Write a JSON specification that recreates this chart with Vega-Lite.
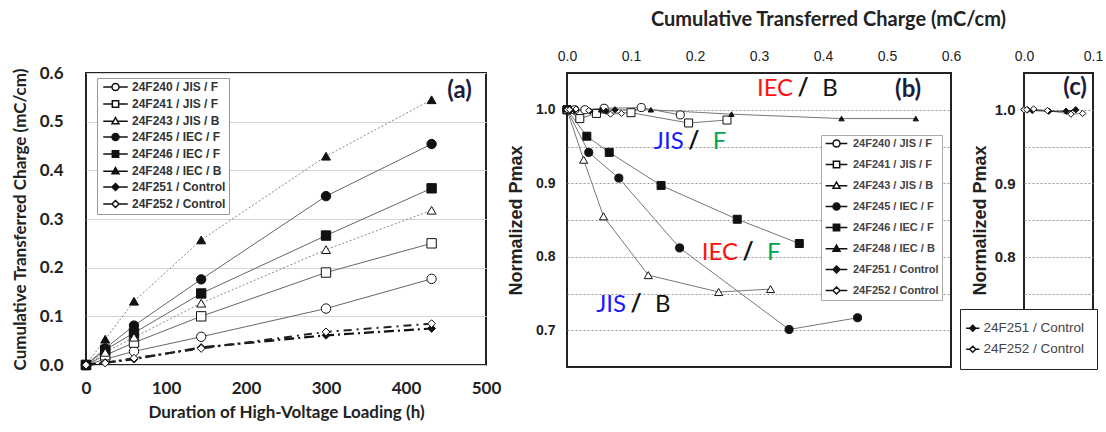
{
  "$schema": "https://vega.github.io/schema/vega-lite/v6.json",
  "background": "white",
  "padding": {"left": 10, "top": 8, "right": 0, "bottom": 4},
  "config": {
    "view": {"stroke": "#222", "strokeWidth": 2},
    "axis": {"domain": false, "ticks": false, "labelFlush": false, "labelOverlap": false, "labelColor": "#222", "titleColor": "#222", "gridColor": "#d4d4d4"}
  },
  "datasets": {
    "main": [
      {"sample": "24F240 / JIS / F", "hours": 0, "charge": 0, "pmax": 1.0},
      {"sample": "24F240 / JIS / F", "hours": 24, "charge": 0.012, "pmax": 1.0},
      {"sample": "24F240 / JIS / F", "hours": 60, "charge": 0.028, "pmax": 1.0},
      {"sample": "24F240 / JIS / F", "hours": 144, "charge": 0.058, "pmax": 1.002},
      {"sample": "24F240 / JIS / F", "hours": 300, "charge": 0.116, "pmax": 1.003},
      {"sample": "24F240 / JIS / F", "hours": 432, "charge": 0.177, "pmax": 0.993},
      {"sample": "24F241 / JIS / F", "hours": 0, "charge": 0, "pmax": 1.0},
      {"sample": "24F241 / JIS / F", "hours": 24, "charge": 0.02, "pmax": 0.988},
      {"sample": "24F241 / JIS / F", "hours": 60, "charge": 0.046, "pmax": 0.995},
      {"sample": "24F241 / JIS / F", "hours": 144, "charge": 0.1, "pmax": 0.996},
      {"sample": "24F241 / JIS / F", "hours": 300, "charge": 0.19, "pmax": 0.982},
      {"sample": "24F241 / JIS / F", "hours": 432, "charge": 0.25, "pmax": 0.986},
      {"sample": "24F243 / JIS / B", "hours": 0, "charge": 0, "pmax": 1.0},
      {"sample": "24F243 / JIS / B", "hours": 24, "charge": 0.026, "pmax": 0.932},
      {"sample": "24F243 / JIS / B", "hours": 60, "charge": 0.057, "pmax": 0.855},
      {"sample": "24F243 / JIS / B", "hours": 144, "charge": 0.127, "pmax": 0.775},
      {"sample": "24F243 / JIS / B", "hours": 300, "charge": 0.237, "pmax": 0.752},
      {"sample": "24F243 / JIS / B", "hours": 432, "charge": 0.318, "pmax": 0.756},
      {"sample": "24F245 / IEC / F", "hours": 0, "charge": 0, "pmax": 1.0},
      {"sample": "24F245 / IEC / F", "hours": 24, "charge": 0.034, "pmax": 0.942},
      {"sample": "24F245 / IEC / F", "hours": 60, "charge": 0.081, "pmax": 0.907},
      {"sample": "24F245 / IEC / F", "hours": 144, "charge": 0.176, "pmax": 0.812},
      {"sample": "24F245 / IEC / F", "hours": 300, "charge": 0.347, "pmax": 0.701},
      {"sample": "24F245 / IEC / F", "hours": 432, "charge": 0.454, "pmax": 0.717},
      {"sample": "24F246 / IEC / F", "hours": 0, "charge": 0, "pmax": 1.0},
      {"sample": "24F246 / IEC / F", "hours": 24, "charge": 0.031, "pmax": 0.964},
      {"sample": "24F246 / IEC / F", "hours": 60, "charge": 0.066, "pmax": 0.942},
      {"sample": "24F246 / IEC / F", "hours": 144, "charge": 0.147, "pmax": 0.897},
      {"sample": "24F246 / IEC / F", "hours": 300, "charge": 0.266, "pmax": 0.851},
      {"sample": "24F246 / IEC / F", "hours": 432, "charge": 0.363, "pmax": 0.818},
      {"sample": "24F248 / IEC / B", "hours": 0, "charge": 0, "pmax": 1.0},
      {"sample": "24F248 / IEC / B", "hours": 24, "charge": 0.053, "pmax": 1.0},
      {"sample": "24F248 / IEC / B", "hours": 60, "charge": 0.131, "pmax": 1.0},
      {"sample": "24F248 / IEC / B", "hours": 144, "charge": 0.257, "pmax": 0.994},
      {"sample": "24F248 / IEC / B", "hours": 300, "charge": 0.429, "pmax": 0.988},
      {"sample": "24F248 / IEC / B", "hours": 432, "charge": 0.545, "pmax": 0.988},
      {"sample": "24F251 / Control", "hours": 0, "charge": 0, "pmax": 1.0},
      {"sample": "24F251 / Control", "hours": 24, "charge": 0.005, "pmax": 1.0},
      {"sample": "24F251 / Control", "hours": 60, "charge": 0.012, "pmax": 0.999},
      {"sample": "24F251 / Control", "hours": 144, "charge": 0.036, "pmax": 0.998},
      {"sample": "24F251 / Control", "hours": 300, "charge": 0.061, "pmax": 0.998},
      {"sample": "24F251 / Control", "hours": 432, "charge": 0.075, "pmax": 1.0},
      {"sample": "24F252 / Control", "hours": 0, "charge": 0, "pmax": 1.0},
      {"sample": "24F252 / Control", "hours": 24, "charge": 0.004, "pmax": 1.0},
      {"sample": "24F252 / Control", "hours": 60, "charge": 0.014, "pmax": 1.001},
      {"sample": "24F252 / Control", "hours": 144, "charge": 0.034, "pmax": 0.999},
      {"sample": "24F252 / Control", "hours": 300, "charge": 0.068, "pmax": 0.994},
      {"sample": "24F252 / Control", "hours": 432, "charge": 0.085, "pmax": 0.995}
    ],
    "notes": [
      {"left": "IEC", "right": "B", "charge": 0.369, "pmax": 1.028},
      {"left": "JIS", "right": "F", "charge": 0.198, "pmax": 0.956},
      {"left": "IEC", "right": "F", "charge": 0.283, "pmax": 0.805},
      {"left": "JIS", "right": "B", "charge": 0.108, "pmax": 0.735}
    ],
    "tags": [
      {"panel": "a", "tag": "(a)", "hours": 467, "charge": 0.563},
      {"panel": "b", "tag": "(b)", "charge": 0.533, "pmax": 1.027},
      {"panel": "c", "tag": "(c)", "charge": 0.074, "pmax": 1.03}
    ]
  },
  "spacing": 81,
  "bounds": "flush",
  "resolve": {"scale": {"x": "independent", "y": "independent", "color": "independent", "shape": "independent", "fill": "independent"}, "legend": {"shape": "independent", "fill": "independent"}},
  "hconcat": [
    {
      "width": 400,
      "height": 292,
      "layer": [
        {
          "data": {"name": "main"},
          "transform": [{"filter": {"field": "sample", "oneOf": ["24F240 / JIS / F", "24F241 / JIS / F", "24F245 / IEC / F", "24F246 / IEC / F"]}}],
          "mark": {"type": "line", "color": "#666666", "strokeWidth": 1},
          "encoding": {
            "x": {"field": "hours", "type": "quantitative", "title": "Duration of High-Voltage Loading (h)", "scale": {"domain": [0, 500], "nice": false},
              "axis": {"values": [0, 100, 200, 300, 400, 500], "grid": false, "labelFont": "Lato", "labelFontWeight": "bold", "labelFontSize": 17, "labelPadding": 15, "titleFont": "Lato", "titleFontWeight": "bold", "titleFontSize": 17, "titlePadding": 8}},
            "y": {"field": "charge", "type": "quantitative", "title": "Cumulative Transferred Charge (mC/cm)", "scale": {"domain": [0, 0.6], "nice": false},
              "axis": {"values": [0, 0.1, 0.2, 0.3, 0.4, 0.5, 0.6], "format": ".1f", "grid": true, "labelFont": "Lato", "labelFontWeight": "bold", "labelFontSize": 17, "labelPadding": 23, "titleFont": "Lato", "titleFontWeight": "bold", "titleFontSize": 17, "titlePadding": 10}},
            "detail": {"field": "sample"}
          }
        },
        {
          "data": {"name": "main"},
          "transform": [{"filter": {"field": "sample", "oneOf": ["24F243 / JIS / B", "24F248 / IEC / B"]}}],
          "mark": {"type": "line", "color": "#8a8a8a", "strokeWidth": 1, "strokeDash": [2, 2]},
          "encoding": {
            "x": {"field": "hours", "type": "quantitative", "title": "Duration of High-Voltage Loading (h)"},
            "y": {"field": "charge", "type": "quantitative", "title": "Cumulative Transferred Charge (mC/cm)"},
            "detail": {"field": "sample"}
          }
        },
        {
          "data": {"name": "main"},
          "transform": [{"filter": {"field": "sample", "equal": "24F251 / Control"}}],
          "mark": {"type": "line", "color": "#111111", "strokeWidth": 2.2, "strokeDash": [10, 4, 2, 4]},
          "encoding": {
            "x": {"field": "hours", "type": "quantitative", "title": "Duration of High-Voltage Loading (h)"},
            "y": {"field": "charge", "type": "quantitative", "title": "Cumulative Transferred Charge (mC/cm)"}
          }
        },
        {
          "data": {"name": "main"},
          "transform": [{"filter": {"field": "sample", "equal": "24F252 / Control"}}],
          "mark": {"type": "line", "color": "#222222", "strokeWidth": 2, "strokeDash": [8, 5, 2, 5]},
          "encoding": {
            "x": {"field": "hours", "type": "quantitative", "title": "Duration of High-Voltage Loading (h)"},
            "y": {"field": "charge", "type": "quantitative", "title": "Cumulative Transferred Charge (mC/cm)"}
          }
        },
        {
          "data": {"name": "main"},
          "transform": [{"filter": {"field": "sample", "oneOf": ["24F240 / JIS / F", "24F245 / IEC / F"]}}],
          "mark": {"type": "point", "shape": "circle", "filled": true, "opacity": 1, "stroke": "#111", "strokeWidth": 1, "size": 88},
          "encoding": {
            "x": {"field": "hours", "type": "quantitative", "title": "Duration of High-Voltage Loading (h)"},
            "y": {"field": "charge", "type": "quantitative", "title": "Cumulative Transferred Charge (mC/cm)"},
            "fill": {"field": "sample", "type": "nominal", "scale": {"domain": ["24F240 / JIS / F", "24F241 / JIS / F", "24F243 / JIS / B", "24F245 / IEC / F", "24F246 / IEC / F", "24F248 / IEC / B", "24F251 / Control", "24F252 / Control"], "range": ["white", "white", "white", "#111111", "#111111", "#111111", "#111111", "white"]}}
          }
        },
        {
          "data": {"name": "main"},
          "transform": [{"filter": {"field": "sample", "oneOf": ["24F241 / JIS / F", "24F246 / IEC / F"]}}],
          "mark": {"type": "point", "shape": "square", "filled": true, "opacity": 1, "stroke": "#111", "strokeWidth": 1, "size": 88},
          "encoding": {
            "x": {"field": "hours", "type": "quantitative", "title": "Duration of High-Voltage Loading (h)"},
            "y": {"field": "charge", "type": "quantitative", "title": "Cumulative Transferred Charge (mC/cm)"},
            "fill": {"field": "sample", "type": "nominal"}
          }
        },
        {
          "data": {"name": "main"},
          "transform": [{"filter": {"field": "sample", "oneOf": ["24F243 / JIS / B", "24F248 / IEC / B"]}}],
          "mark": {"type": "point", "shape": "triangle-up", "filled": true, "opacity": 1, "stroke": "#111", "strokeWidth": 1, "size": 80},
          "encoding": {
            "x": {"field": "hours", "type": "quantitative", "title": "Duration of High-Voltage Loading (h)"},
            "y": {"field": "charge", "type": "quantitative", "title": "Cumulative Transferred Charge (mC/cm)"},
            "fill": {"field": "sample", "type": "nominal"}
          }
        },
        {
          "data": {"name": "main"},
          "transform": [{"filter": {"field": "sample", "oneOf": ["24F251 / Control", "24F252 / Control"]}}],
          "mark": {"type": "point", "shape": "diamond", "filled": true, "opacity": 1, "stroke": "#111", "strokeWidth": 1, "size": 60},
          "encoding": {
            "x": {"field": "hours", "type": "quantitative", "title": "Duration of High-Voltage Loading (h)"},
            "y": {"field": "charge", "type": "quantitative", "title": "Cumulative Transferred Charge (mC/cm)"},
            "fill": {"field": "sample", "type": "nominal"}
          }
        },
        {
          "data": {"name": "main"},
          "transform": [{"filter": "datum.hours < 0"}],
          "mark": {"type": "point", "filled": true, "opacity": 1, "stroke": "#111", "strokeWidth": 1},
          "encoding": {
            "x": {"field": "hours", "type": "quantitative", "title": "Duration of High-Voltage Loading (h)"},
            "y": {"field": "charge", "type": "quantitative", "title": "Cumulative Transferred Charge (mC/cm)"},
            "shape": {"field": "sample", "type": "nominal", "scale": {"domain": ["24F240 / JIS / F", "24F241 / JIS / F", "24F243 / JIS / B", "24F245 / IEC / F", "24F246 / IEC / F", "24F248 / IEC / B", "24F251 / Control", "24F252 / Control"],
                "range": ["M-3.5,0H-1M1,0H3.5M-1,0A1,1,0,1,0,1,0A1,1,0,1,0,-1,0", "M-3.5,0H-0.9M0.9,0H3.5M-0.9,-0.9H0.9V0.9H-0.9Z", "M-3.5,0.1H-0.6M0.6,0.1H3.5M0,-1L1,0.8H-1Z", "M-3.5,0H-1M1,0H3.5M-1,0A1,1,0,1,0,1,0A1,1,0,1,0,-1,0", "M-3.5,0H-0.9M0.9,0H3.5M-0.9,-0.9H0.9V0.9H-0.9Z", "M-3.5,0.1H-0.6M0.6,0.1H3.5M0,-1L1,0.8H-1Z", "M-3.5,0H-1M1,0H3.5M0,-1L1,0L0,1L-1,0Z", "M-3.5,0H-1M1,0H3.5M0,-1L1,0L0,1L-1,0Z"]},
              "legend": {"title": null, "orient": "none", "legendX": 11, "legendY": 5, "fillColor": "white", "strokeColor": "#999", "padding": 3, "labelFont": "Liberation Sans", "labelFontWeight": "bold", "labelFontSize": 12, "labelColor": "#333", "symbolSize": 49, "symbolOpacity": 1, "symbolOffset": 9.5, "labelOffset": 10.5, "rowPadding": 3}},
            "fill": {"field": "sample", "type": "nominal"}
          }
        },
        {
          "data": {"name": "tags"},
          "transform": [{"filter": "datum.panel === 'a'"}],
          "mark": {"type": "text", "font": "Lato", "fontWeight": "bold", "fontSize": 24, "color": "#1c1c3c", "align": "center", "baseline": "middle"},
          "encoding": {
            "x": {"field": "hours", "type": "quantitative", "title": "Duration of High-Voltage Loading (h)"},
            "y": {"field": "charge", "type": "quantitative", "title": "Cumulative Transferred Charge (mC/cm)"},
            "text": {"field": "tag"}
          }
        }
      ]
    },
    {
      "spacing": 73,
      "bounds": "flush",
      "resolve": {"scale": {"x": "independent", "y": "independent", "color": "independent", "shape": "independent", "fill": "independent"}, "legend": {"shape": "independent", "fill": "independent"}},
      "hconcat": [
        {
          "width": 384,
          "height": 294,
          "layer": [
            {
              "data": {"name": "main"},
              "mark": {"type": "line", "color": "#777777", "strokeWidth": 1},
              "encoding": {
                "x": {"field": "charge", "type": "quantitative", "title": "Cumulative Transferred Charge (mC/cm)", "scale": {"domain": [0, 0.6], "nice": false},
                  "axis": {"orient": "top", "values": [0, 0.1, 0.2, 0.3, 0.4, 0.5, 0.6], "format": ".1f", "grid": false, "labelFont": "Liberation Sans", "labelFontSize": 14, "labelPadding": 10, "titleFont": "Lato", "titleFontWeight": "bold", "titleFontSize": 20, "titleX": 261, "titleY": -48, "titleAlign": "center", "titleBaseline": "alphabetic"}},
                "y": {"field": "pmax", "type": "quantitative", "title": "Normalized Pmax", "scale": {"domain": [0.65, 1.05], "nice": false},
                  "axis": {"values": [0.7, 0.75, 0.8, 0.85, 0.9, 0.95, 1.0], "labelExpr": "abs(round(datum.value*100)) % 10 == 0 ? format(datum.value, '.1f') : ''", "grid": true, "gridDash": [2, 2], "gridColor": "#999999", "labelFont": "Liberation Sans", "labelFontWeight": "bold", "labelFontSize": 14, "labelPadding": 12, "titleFont": "Liberation Sans", "titleFontWeight": "bold", "titleFontSize": 18, "titlePadding": 10}},
                "detail": {"field": "sample"}
              }
            },
            {
              "data": {"name": "main"},
              "transform": [{"filter": {"field": "sample", "oneOf": ["24F240 / JIS / F", "24F245 / IEC / F"]}}],
              "mark": {"type": "point", "shape": "circle", "filled": true, "opacity": 1, "stroke": "#111", "strokeWidth": 1, "size": 66},
              "encoding": {
                "x": {"field": "charge", "type": "quantitative", "title": "Cumulative Transferred Charge (mC/cm)"},
                "y": {"field": "pmax", "type": "quantitative", "title": "Normalized Pmax"},
                "fill": {"field": "sample", "type": "nominal", "scale": {"domain": ["24F240 / JIS / F", "24F241 / JIS / F", "24F243 / JIS / B", "24F245 / IEC / F", "24F246 / IEC / F", "24F248 / IEC / B", "24F251 / Control", "24F252 / Control"], "range": ["white", "white", "white", "#111111", "#111111", "#111111", "#111111", "white"]}}
              }
            },
            {
              "data": {"name": "main"},
              "transform": [{"filter": {"field": "sample", "oneOf": ["24F241 / JIS / F", "24F246 / IEC / F"]}}],
              "mark": {"type": "point", "shape": "square", "filled": true, "opacity": 1, "stroke": "#111", "strokeWidth": 1, "size": 64},
              "encoding": {
                "x": {"field": "charge", "type": "quantitative", "title": "Cumulative Transferred Charge (mC/cm)"},
                "y": {"field": "pmax", "type": "quantitative", "title": "Normalized Pmax"},
                "fill": {"field": "sample", "type": "nominal"}
              }
            },
            {
              "data": {"name": "main"},
              "transform": [{"filter": {"field": "sample", "equal": "24F243 / JIS / B"}}],
              "mark": {"type": "point", "shape": "triangle-up", "filled": true, "opacity": 1, "stroke": "#111", "strokeWidth": 1, "size": 66},
              "encoding": {
                "x": {"field": "charge", "type": "quantitative", "title": "Cumulative Transferred Charge (mC/cm)"},
                "y": {"field": "pmax", "type": "quantitative", "title": "Normalized Pmax"},
                "fill": {"field": "sample", "type": "nominal"}
              }
            },
            {
              "data": {"name": "main"},
              "transform": [{"filter": {"field": "sample", "equal": "24F248 / IEC / B"}}],
              "mark": {"type": "point", "shape": "triangle-up", "filled": true, "opacity": 1, "stroke": "#111", "strokeWidth": 1, "size": 28},
              "encoding": {
                "x": {"field": "charge", "type": "quantitative", "title": "Cumulative Transferred Charge (mC/cm)"},
                "y": {"field": "pmax", "type": "quantitative", "title": "Normalized Pmax"},
                "fill": {"field": "sample", "type": "nominal"}
              }
            },
            {
              "data": {"name": "main"},
              "transform": [{"filter": {"field": "sample", "oneOf": ["24F251 / Control", "24F252 / Control"]}}],
              "mark": {"type": "point", "shape": "diamond", "filled": true, "opacity": 1, "stroke": "#111", "strokeWidth": 1, "size": 38},
              "encoding": {
                "x": {"field": "charge", "type": "quantitative", "title": "Cumulative Transferred Charge (mC/cm)"},
                "y": {"field": "pmax", "type": "quantitative", "title": "Normalized Pmax"},
                "fill": {"field": "sample", "type": "nominal"}
              }
            },
            {
              "data": {"name": "main"},
              "transform": [{"filter": "datum.hours < 0"}],
              "mark": {"type": "point", "filled": true, "opacity": 1, "stroke": "#222", "strokeWidth": 1},
              "encoding": {
                "x": {"field": "charge", "type": "quantitative", "title": "Cumulative Transferred Charge (mC/cm)"},
                "y": {"field": "pmax", "type": "quantitative", "title": "Normalized Pmax"},
                "shape": {"field": "sample", "type": "nominal", "scale": {"domain": ["24F240 / JIS / F", "24F241 / JIS / F", "24F243 / JIS / B", "24F245 / IEC / F", "24F246 / IEC / F", "24F248 / IEC / B", "24F251 / Control", "24F252 / Control"],
                    "range": ["M-3.1,0H-1M1,0H3.1M-1,0A1,1,0,1,0,1,0A1,1,0,1,0,-1,0", "M-3.1,0H-0.9M0.9,0H3.1M-0.9,-0.9H0.9V0.9H-0.9Z", "M-3.1,0.1H-0.6M0.6,0.1H3.1M0,-1L1,0.8H-1Z", "M-3.1,0H-1M1,0H3.1M-1,0A1,1,0,1,0,1,0A1,1,0,1,0,-1,0", "M-3.1,0H-0.9M0.9,0H3.1M-0.9,-0.9H0.9V0.9H-0.9Z", "M-3.1,0.1H-0.6M0.6,0.1H3.1M0,-1L1,0.8H-1Z", "M-3.1,0H-1M1,0H3.1M0,-1L1,0L0,1L-1,0Z", "M-3.1,0H-1M1,0H3.1M0,-1L1,0L0,1L-1,0Z"]},
                  "legend": {"title": null, "orient": "none", "legendX": 254, "legendY": 62, "fillColor": "white", "strokeColor": "#aaa", "padding": 3, "labelFont": "Liberation Sans", "labelFontWeight": "bold", "labelFontSize": 11, "labelColor": "#444", "symbolSize": 49, "symbolOpacity": 1, "symbolOffset": 7, "labelOffset": 11, "rowPadding": 8}},
                "fill": {"field": "sample", "type": "nominal"}
              }
            },
            {
              "data": {"name": "notes"},
              "mark": {"type": "text", "font": "Lato", "fontSize": 24, "align": "right", "baseline": "middle", "dx": -10},
              "encoding": {
                "x": {"field": "charge", "type": "quantitative", "title": "Cumulative Transferred Charge (mC/cm)"},
                "y": {"field": "pmax", "type": "quantitative", "title": "Normalized Pmax"},
                "text": {"field": "left"},
                "color": {"field": "left", "type": "nominal", "scale": {"domain": ["IEC", "JIS", "F", "B"], "range": ["#ff1010", "#1a1aff", "#00a550", "#111111"]}, "legend": null}
              }
            },
            {
              "data": {"name": "notes"},
              "mark": {"type": "text", "font": "Lato", "fontWeight": "bold", "fontSize": 24, "align": "center", "baseline": "middle", "color": "#111"},
              "encoding": {
                "x": {"field": "charge", "type": "quantitative", "title": "Cumulative Transferred Charge (mC/cm)"},
                "y": {"field": "pmax", "type": "quantitative", "title": "Normalized Pmax"},
                "text": {"value": "/"}
              }
            },
            {
              "data": {"name": "notes"},
              "mark": {"type": "text", "font": "Lato", "fontSize": 24, "align": "left", "baseline": "middle", "dx": 19},
              "encoding": {
                "x": {"field": "charge", "type": "quantitative", "title": "Cumulative Transferred Charge (mC/cm)"},
                "y": {"field": "pmax", "type": "quantitative", "title": "Normalized Pmax"},
                "text": {"field": "right"},
                "color": {"field": "right", "type": "nominal", "scale": {"domain": ["IEC", "JIS", "F", "B"], "range": ["#ff1010", "#1a1aff", "#00a550", "#111111"]}, "legend": null}
              }
            },
            {
              "data": {"name": "tags"},
              "transform": [{"filter": "datum.panel === 'b'"}],
              "mark": {"type": "text", "font": "Lato", "fontWeight": "bold", "fontSize": 24, "color": "#1c1c3c", "align": "center", "baseline": "middle"},
              "encoding": {
                "x": {"field": "charge", "type": "quantitative", "title": "Cumulative Transferred Charge (mC/cm)"},
                "y": {"field": "pmax", "type": "quantitative", "title": "Normalized Pmax"},
                "text": {"field": "tag"}
              }
            }
          ]
        },
        {
          "width": 69,
          "height": 294,
          "layer": [
            {
              "data": {"name": "main"},
              "transform": [{"filter": {"field": "sample", "equal": "24F252 / Control"}}],
              "mark": {"type": "line", "strokeWidth": 1, "color": "#888888"},
              "encoding": {
                "x": {"field": "charge", "type": "quantitative", "title": null, "scale": {"domain": [0, 0.1], "nice": false},
                  "axis": {"orient": "top", "values": [0, 0.1], "format": ".1f", "grid": false, "labelFont": "Liberation Sans", "labelFontSize": 14, "labelPadding": 10}},
                "y": {"field": "pmax", "type": "quantitative", "title": "Normalized Pmax", "scale": {"domain": [0.65, 1.05], "nice": false},
                  "axis": {"values": [0.75, 0.8, 0.85, 0.9, 0.95, 1.0], "labelExpr": "abs(round(datum.value*100)) % 10 == 0 ? format(datum.value, '.1f') : ''", "grid": true, "gridDash": [2, 2], "gridColor": "#999999", "labelFont": "Liberation Sans", "labelFontWeight": "bold", "labelFontSize": 15, "labelPadding": 9, "titleFont": "Liberation Sans", "titleFontWeight": "bold", "titleFontSize": 18, "titlePadding": 5}}
              }
            },
            {
              "data": {"name": "main"},
              "transform": [{"filter": {"field": "sample", "equal": "24F251 / Control"}}],
              "mark": {"type": "line", "strokeWidth": 1, "color": "#111111"},
              "encoding": {
                "x": {"field": "charge", "type": "quantitative", "title": null},
                "y": {"field": "pmax", "type": "quantitative", "title": "Normalized Pmax"}
              }
            },
            {
              "data": {"name": "main"},
              "transform": [{"filter": {"field": "sample", "oneOf": ["24F251 / Control", "24F252 / Control"]}}],
              "mark": {"type": "point", "shape": "diamond", "filled": true, "opacity": 1, "stroke": "#111", "strokeWidth": 1, "size": 40},
              "encoding": {
                "x": {"field": "charge", "type": "quantitative", "title": null},
                "y": {"field": "pmax", "type": "quantitative", "title": "Normalized Pmax"},
                "fill": {"field": "sample", "type": "nominal", "scale": {"domain": ["24F251 / Control", "24F252 / Control"], "range": ["#111111", "white"]}}
              }
            },
            {
              "data": {"name": "main"},
              "transform": [{"filter": "datum.hours < 0"}],
              "mark": {"type": "point", "filled": true, "opacity": 1, "stroke": "#333", "strokeWidth": 1},
              "encoding": {
                "x": {"field": "charge", "type": "quantitative", "title": null},
                "y": {"field": "pmax", "type": "quantitative", "title": "Normalized Pmax"},
                "shape": {"field": "sample", "type": "nominal", "scale": {"domain": ["24F251 / Control", "24F252 / Control"], "range": ["M-2.2,0H-1M1,0H2.2M0,-1L1,0L0,1L-1,0Z", "M-2.2,0H-1M1,0H2.2M0,-1L1,0L0,1L-1,0Z"]},
                  "legend": {"title": null, "orient": "none", "legendX": -64, "legendY": 236, "fillColor": "white", "strokeColor": "#222", "padding": 12.5, "labelFont": "Liberation Sans", "labelFontSize": 13.5, "labelColor": "#444", "symbolSize": 36, "symbolOpacity": 1, "symbolOffset": -6.5, "labelOffset": 4, "rowPadding": 6}},
                "fill": {"field": "sample", "type": "nominal"}
              }
            },
            {
              "data": {"name": "tags"},
              "transform": [{"filter": "datum.panel === 'c'"}],
              "mark": {"type": "text", "font": "Lato", "fontWeight": "bold", "fontSize": 24, "color": "#1c1c3c", "align": "center", "baseline": "middle"},
              "encoding": {
                "x": {"field": "charge", "type": "quantitative", "title": null},
                "y": {"field": "pmax", "type": "quantitative", "title": "Normalized Pmax"},
                "text": {"field": "tag"}
              }
            }
          ]
        }
      ]
    }
  ]
}
